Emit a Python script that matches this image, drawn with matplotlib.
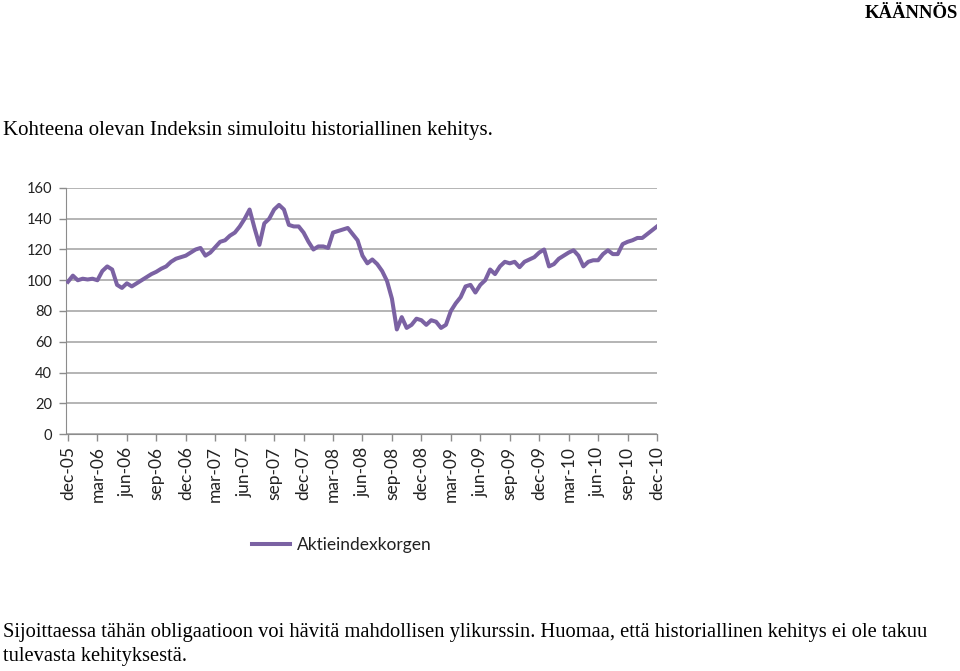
import matplotlib.pyplot as plt

# Semi-monthly readings of the simulated index, dec-05 .. dec-10
values = [
    99, 103, 100, 101, 100.5, 101, 100, 106, 109, 107,
    97, 95, 98, 96, 98, 100, 102, 104, 105.5, 107.5,
    109, 112, 114, 115, 116, 118, 120, 121, 116, 118,
    121.5, 125, 126, 129, 131, 135, 140, 146, 134, 123,
    137, 140, 146, 149, 146, 136, 135, 135, 131, 125,
    120, 122, 122, 121, 131, 132, 133, 134, 130, 126,
    116, 111, 113.5, 110.5, 106, 99.5, 88, 68, 76, 69,
    71, 75, 74, 71, 74, 73, 69, 71, 80, 85,
    89, 96, 97, 92, 97, 100, 107, 104, 109, 112,
    111, 112, 108.5, 112, 113.5, 115, 118, 120, 109, 110.5,
    114, 116, 118, 119.5, 116, 109, 112, 113, 113, 117,
    119.5, 117, 117, 123.5, 125, 126, 127.5, 127.5, 130, 132.5,
    135,
]
tick_labels = [
    "dec-05", "mar-06", "jun-06", "sep-06", "dec-06", "mar-07", "jun-07",
    "sep-07", "dec-07", "mar-08", "jun-08", "sep-08", "dec-08", "mar-09",
    "jun-09", "sep-09", "dec-09", "mar-10", "jun-10", "sep-10", "dec-10",
]
series_name = "Aktieindexkorgen"

W, H = 960, 671
fig = plt.figure(figsize=(W / 100, H / 100), dpi=100)

serif = "Liberation Serif"
chart_font = "Lato"

fig.text(958 / W, 1 - 14 / H, "KÄÄNNÖS", family=serif, fontweight="bold",
         fontsize=13.5, ha="right", va="center")
fig.text(3 / W, 1 - 131 / H,
         "Kohteena olevan Indeksin simuloitu historiallinen kehitys.",
         family=serif, fontsize=15, ha="left", va="center")
fig.text(3 / W, 1 - 633 / H,
         "Sijoittaessa tähän obligaatioon voi hävitä mahdollisen ylikurssin. "
         "Huomaa, että historiallinen kehitys ei ole takuu",
         family=serif, fontsize=14.8, ha="left", va="center")
fig.text(3 / W, 1 - 657 / H, "tulevasta kehityksestä.",
         family=serif, fontsize=14.8, ha="left", va="center")

ax = fig.add_axes([66 / W, 1 - 434 / H, (657 - 66) / W, (434 - 188) / H])

x = list(range(len(values)))
ax.plot(x, values, color="#7b62a3", linewidth=2.9, solid_joinstyle="round",
        label=series_name, zorder=3)

ax.set_ylim(0, 160)
ax.set_yticks(range(0, 161, 20))
ax.set_xlim(-0.4, len(values) - 1)
ax.set_xticks(range(0, len(values), 6))
ax.set_xticklabels(tick_labels, rotation=90)

ax.grid(axis="y", color="#a0a0a0", linewidth=1.1)
ax.set_axisbelow(True)
for side in ("top", "right"):
    ax.spines[side].set_visible(False)
ax.spines["left"].set_color("#8c8c8c")
ax.spines["bottom"].set_color("#8c8c8c")
ax.tick_params(axis="both", colors="#8c8c8c", length=5, width=1,
               labelcolor="#222222")
ax.tick_params(axis="y", labelsize=10.5, pad=5)
ax.tick_params(axis="x", labelsize=12.5, pad=4)
for lbl in ax.get_xticklabels() + ax.get_yticklabels():
    lbl.set_family(chart_font)

leg = fig.legend(loc="center", bbox_to_anchor=(342 / W, 1 - 545 / H),
                 frameon=False, handlelength=2.2, handletextpad=0.4,
                 prop={"family": chart_font, "size": 12.5})
for t in leg.get_texts():
    t.set_color("#222222")

fig.savefig("out.png", dpi=100)
